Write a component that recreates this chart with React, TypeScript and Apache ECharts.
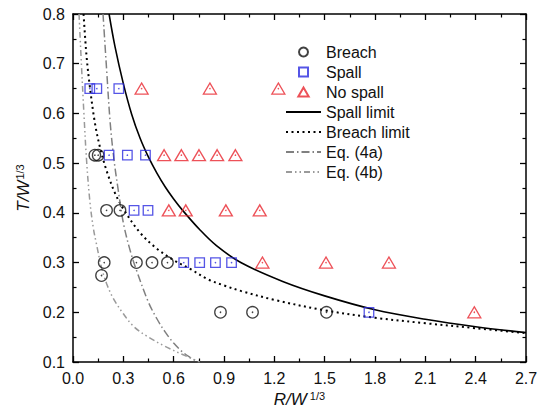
import React, { useEffect, useRef } from 'react';
import * as echarts from 'echarts';

// Tick labels
const xTickLabels = ['0.0', '0.3', '0.6', '0.9', '1.2', '1.5', '1.8', '2.1', '2.4', '2.7'];
const yTickLabels = ['0.1', '0.2', '0.3', '0.4', '0.5', '0.6', '0.7', '0.8'];

// Breach (circles)
const breachR = [0.13, 0.15, 0.2, 0.28, 0.186, 0.378, 0.471, 0.563, 0.17, 0.879, 1.07, 1.511];
const breachT = [0.516, 0.516, 0.405, 0.405, 0.3, 0.3, 0.3, 0.3, 0.274, 0.2, 0.2, 0.2];

// Spall (squares)
const spallR = [0.1, 0.142, 0.273, 0.215, 0.324, 0.432, 0.364, 0.447, 0.66, 0.755, 0.849, 0.945, 1.764];
const spallT = [0.65, 0.65, 0.65, 0.516, 0.516, 0.516, 0.405, 0.405, 0.3, 0.3, 0.3, 0.3, 0.2];

// No spall (triangles)
const noSpallR = [0.409, 0.816, 1.224, 0.543, 0.646, 0.751, 0.859, 0.968, 0.571, 0.672, 0.911, 1.113, 1.129, 1.508, 1.883, 2.392];
const noSpallT = [0.65, 0.65, 0.65, 0.516, 0.516, 0.516, 0.516, 0.516, 0.405, 0.405, 0.405, 0.405, 0.3, 0.3, 0.3, 0.2];

// Spall limit (solid)
const spallLimR = [0.215, 0.25, 0.3, 0.35, 0.4, 0.45, 0.5, 0.55, 0.6, 0.656, 0.756, 0.855, 1.0, 1.25, 1.5, 1.8, 2.1, 2.4, 2.7];
const spallLimT = [0.8, 0.735, 0.66, 0.598, 0.55, 0.512, 0.48, 0.452, 0.428, 0.404, 0.366, 0.334, 0.3, 0.262, 0.233, 0.205, 0.186, 0.171, 0.159];

// Breach limit (dotted)
const breachLimR = [0.063, 0.08, 0.1, 0.13, 0.16, 0.2, 0.25, 0.3, 0.4, 0.5, 0.6, 0.7, 0.8, 0.9, 1.0, 1.2, 1.5, 1.8, 2.1, 2.4, 2.7];
const breachLimT = [0.8, 0.718, 0.655, 0.582, 0.533, 0.485, 0.44, 0.408, 0.36, 0.328, 0.305, 0.287, 0.267, 0.254, 0.243, 0.225, 0.204, 0.189, 0.178, 0.168, 0.158];

// Eq. (4a) (dash-dot)
const eq4aR = [0.179, 0.2, 0.222, 0.245, 0.27, 0.3, 0.34, 0.38, 0.45, 0.5, 0.55, 0.6, 0.65, 0.7, 0.745];
const eq4aT = [0.8, 0.69, 0.58, 0.505, 0.445, 0.38, 0.325, 0.283, 0.22, 0.187, 0.16, 0.138, 0.121, 0.109, 0.1];

// Eq. (4b) (dash-dot-dot)
const eq4bR = [0.036, 0.05, 0.065, 0.08, 0.1, 0.12, 0.14, 0.17, 0.2, 0.24, 0.3, 0.36, 0.44, 0.54, 0.64, 0.7, 0.755];
const eq4bT = [0.8, 0.7, 0.6, 0.51, 0.425, 0.372, 0.337, 0.29, 0.258, 0.228, 0.197, 0.172, 0.152, 0.133, 0.117, 0.108, 0.1];

const pairs = (xs: number[], ys: number[]) => xs.map((x, i) => [x, ys[i]]);

const FONT = '"Liberation Sans", Arial, sans-serif';
const BLACK = '#000';
const BLUE = '#2a2ae0';
const RED = '#e8262e';

export default function App() {
  const ref = useRef<HTMLDivElement>(null);
  useEffect(() => {
    if (!ref.current) return;
    const chart = echarts.init(ref.current, undefined, { renderer: 'svg' });

    const axisCommon = {
      type: 'value' as const,
      axisLine: { show: true, onZero: false, lineStyle: { color: BLACK, width: 1.5 } },
      axisTick: { show: true, inside: true, length: 6, lineStyle: { color: BLACK, width: 1.3 } },
      minorTick: { show: true, splitNumber: 2, length: 3.5, lineStyle: { color: BLACK, width: 1.2 } },
      splitLine: { show: false },
    };

    const xCommon = { ...axisCommon, min: 0, max: 2.7, interval: 0.3 };
    const yCommon = { ...axisCommon, min: 0.1, max: 0.8, interval: 0.1 };

    const lineSeries = (name: string, xs: number[], ys: number[], style: any) => ({
      name,
      type: 'line',
      data: pairs(xs, ys),
      smooth: 0.35,
      symbol: 'none',
      showSymbol: false,
      itemStyle: { color: 'transparent', borderColor: 'transparent', borderWidth: 0 },
      lineStyle: style,
      silent: true,
      z: 2,
    });

    const scatterSeries = (name: string, xs: number[], ys: number[], symbol: string, size: any, color: string) => ({
      name,
      type: 'scatter',
      data: pairs(xs, ys),
      symbol,
      symbolSize: size,
      itemStyle: { color: 'transparent', borderColor: color, borderWidth: 1.3 },
      emphasis: { disabled: true },
      silent: true,
      z: 4,
    });

    const dotSeries = (name: string, xs: number[], ys: number[], color: string) => ({
      name,
      type: 'scatter',
      data: pairs(xs, ys),
      symbol: 'circle',
      symbolSize: 1.6,
      itemStyle: { color },
      silent: true,
      z: 5,
    });

    chart.setOption({
      animation: false,
      backgroundColor: '#fff',
      textStyle: { fontFamily: FONT },
      grid: { left: 73, right: 20, top: 14, bottom: 52, outerBoundsMode: 'none' },
      xAxis: [
        {
          ...xCommon,
          position: 'bottom',
          axisLabel: {
            show: true,
            fontSize: 16,
            color: '#111',
            margin: 8,
            fontFamily: FONT,
            formatter: (v: number) => xTickLabels[Math.round(v / 0.3)] ?? '',
          },
          name: '{i|R/W}{s|1/3}',
          nameLocation: 'middle',
          nameGap: 23,
          nameTextStyle: {
            rich: {
              i: { fontSize: 17, fontStyle: 'italic', color: '#111', fontFamily: FONT },
              s: { fontSize: 11, color: '#111', verticalAlign: 'top', padding: [0, 0, 0, 3], fontFamily: FONT },
            },
          },
        },
        {
          ...xCommon,
          position: 'top',
          axisLabel: { show: false },
        },
      ],
      yAxis: [
        {
          ...yCommon,
          position: 'left',
          axisLabel: {
            show: true,
            fontSize: 16,
            color: '#111',
            margin: 8,
            fontFamily: FONT,
            formatter: (v: number) => yTickLabels[Math.round((v - 0.1) / 0.1)] ?? '',
          },
          name: '{i|T/W}{s|1/3}',
          nameLocation: 'middle',
          nameRotate: 90,
          nameGap: 41,
          nameTextStyle: {
            rich: {
              i: { fontSize: 17, fontStyle: 'italic', color: '#111', fontFamily: FONT },
              s: { fontSize: 11, color: '#111', verticalAlign: 'top', padding: [0, 0, 0, 1], fontFamily: FONT },
            },
          },
        },
        {
          ...yCommon,
          position: 'right',
          axisLabel: { show: false },
        },
      ],
      legend: {
        orient: 'vertical',
        left: 285,
        top: 44,
        padding: 0,
        itemWidth: 35,
        itemHeight: 9,
        itemGap: 4,
        selectedMode: false,
        textStyle: { fontSize: 16, color: '#111', lineHeight: 16, fontFamily: FONT },
        data: [
          { name: 'Breach', icon: 'circle' },
          { name: 'Spall', icon: 'path://M0,0L10,0L10,10L0,10Z' },
          { name: 'No spall', icon: 'path://M5,0L10,8.7L0,8.7Z' },
          { name: 'Spall limit' },
          { name: 'Breach limit' },
          { name: 'Eq. (4a)' },
          { name: 'Eq. (4b)' },
        ],
      },
      series: [
        lineSeries('Spall limit', spallLimR, spallLimT, { color: BLACK, width: 1.6, type: 'solid' }),
        lineSeries('Breach limit', breachLimR, breachLimT, { color: BLACK, width: 2, type: [2, 3.5] }),
        lineSeries('Eq. (4a)', eq4aR, eq4aT, { color: '#808080', width: 1.5, type: [8, 3, 1.5, 3] }),
        lineSeries('Eq. (4b)', eq4bR, eq4bT, { color: '#9a9a9a', width: 1.5, type: [6, 3, 1.5, 3, 1.5, 3] }),
        scatterSeries('Breach', breachR, breachT, 'circle', 11.5, '#111'),
        scatterSeries('Spall', spallR, spallT, 'rect', 9.5, BLUE),
        scatterSeries('No spall', noSpallR, noSpallT, 'triangle', [13, 11], RED),
        dotSeries('breachDots', breachR, breachT, '#111'),
        dotSeries('spallDots', spallR, spallT, BLUE),
        dotSeries('noSpallDots', noSpallR, noSpallT, RED),
      ],
    });

    return () => chart.dispose();
  }, []);

  return (
    <div
      ref={ref}
      style={{ position: 'absolute', left: 0, top: 0, width: 546, height: 414, background: '#fff' }}
    />
  );
}
